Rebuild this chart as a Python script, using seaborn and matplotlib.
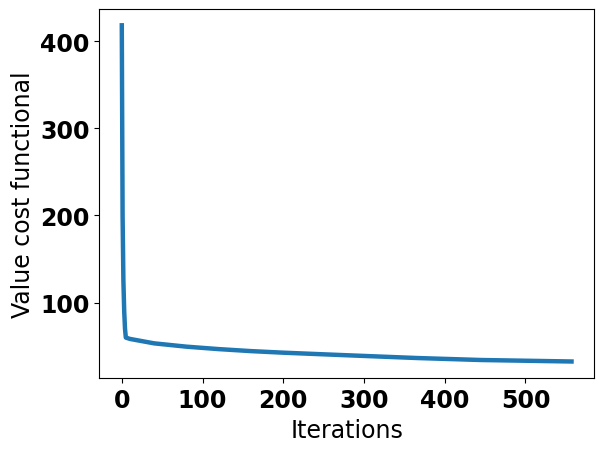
import matplotlib
matplotlib.use('Agg')
import matplotlib.pyplot as plt
import numpy as np
import pandas as pd
import seaborn as sns

# values
iterations = [0, 1, 2, 3, 4, 5, 10, 40, 80, 120, 160, 200, 245, 280, 365, 445, 557]
cost_values = [418, 200, 125, 90, 70, 60, 58.5, 53.4, 49.6, 46.8, 44.5, 42.7, 41.0, 39.7, 36.6, 34.3, 32.6]


def plot_cost(iters, values):
    df = pd.DataFrame({'Iterations': iters, 'Value cost functional': values})
    fig, ax = plt.subplots(figsize=(6.04, 4.52), dpi=100)
    fig.subplots_adjust(left=99.3 / 604, right=594 / 604, bottom=1 - 379.3 / 452, top=1 - 9.5 / 452)
    sns.lineplot(data=df, x='Iterations', y='Value cost functional', ax=ax,
                 color='#1f77b4', linewidth=3.2, estimator=None)
    ax.set_xlabel('Iterations', fontsize=17)
    ax.set_ylabel('Value cost functional', fontsize=17)
    ax.set_xticks([0, 100, 200, 300, 400, 500])
    ax.set_yticks([100, 200, 300, 400])
    for lbl in ax.get_xticklabels() + ax.get_yticklabels():
        lbl.set_fontsize(17)
        lbl.set_fontweight('bold')
    fig.savefig('out.png', dpi=100)
    plt.close('all')


plot_cost(iterations, cost_values)
